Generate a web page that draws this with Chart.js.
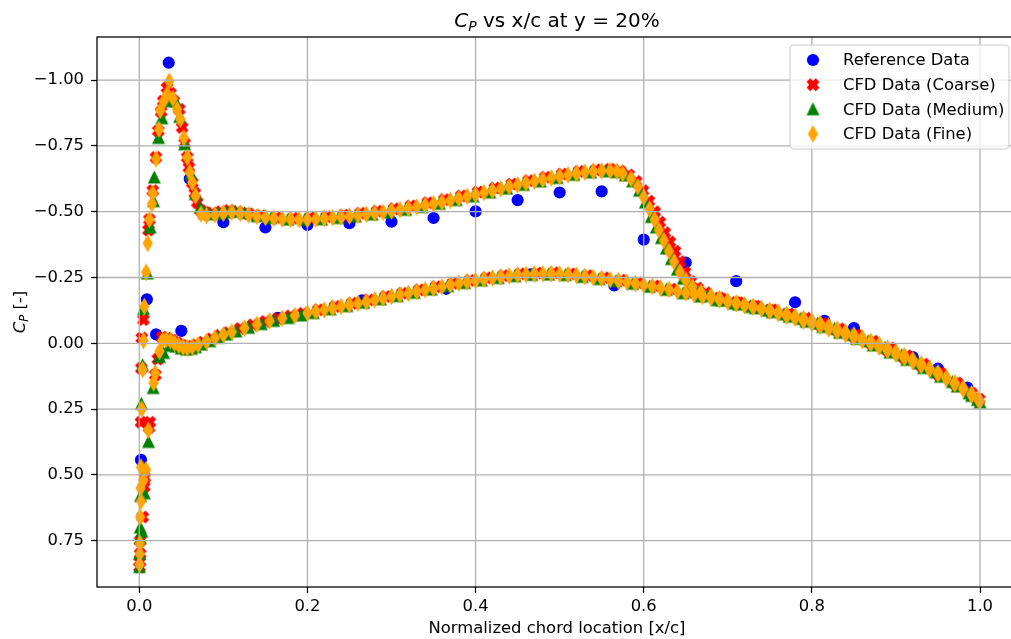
<!DOCTYPE html>
<html>
<head>
<meta charset="utf-8">
<title>Cp vs x/c at y = 20%</title>
<script src="https://cdn.jsdelivr.net/npm/chart.js@4.4.1/dist/chart.umd.min.js"></script>
<style>
  html, body { margin: 0; padding: 0; background: #ffffff; overflow: hidden; }
  canvas { display: block; }
</style>
</head>
<body>
<!-- the axes' right edge sits a few pixels past the visible window -->
<canvas id="cp" width="1017" height="639"></canvas>
<script>
// ---- axis ticks ----
const xTicks = [0.0, 0.2, 0.4, 0.6, 0.8, 1.0];
const xTickLabels = ['0.0', '0.2', '0.4', '0.6', '0.8', '1.0'];
const yTicks = [-1.0, -0.75, -0.5, -0.25, 0.0, 0.25, 0.5, 0.75];
const yTickLabels = ['\u22121.00', '\u22120.75', '\u22120.50', '\u22120.25', '0.00', '0.25', '0.50', '0.75'];

// ---- experimental reference ----
const refX  = [0.002, 0.009, 0.020, 0.035, 0.050, 0.060, 0.100, 0.150, 0.200, 0.250, 0.300, 0.350, 0.400, 0.450, 0.500, 0.550, 0.600, 0.650, 0.710, 0.780, 0.815, 0.850, 0.920, 0.950, 0.985, 0.165, 0.265, 0.365, 0.465, 0.565, 0.665];
const refCp = [0.443, -0.167, -0.034, -1.066, -0.047, -0.625, -0.460, -0.440, -0.450, -0.456, -0.462, -0.476, -0.501, -0.544, -0.573, -0.577, -0.394, -0.307, -0.236, -0.156, -0.085, -0.058, 0.052, 0.096, 0.168, -0.097, -0.163, -0.207, -0.262, -0.220, -0.180];

// ---- CFD, coarse mesh ----
const coarseUpX  = [0.0005, 0.001, 0.002, 0.0025, 0.003, 0.005, 0.011, 0.012, 0.016, 0.0198, 0.0226, 0.026, 0.0285, 0.033, 0.037, 0.041, 0.0476, 0.051, 0.054, 0.057, 0.059, 0.063, 0.066, 0.069, 0.073, 0.078, 0.087, 0.097, 0.107, 0.117, 0.130, 0.145, 0.163, 0.183, 0.203, 0.223, 0.243, 0.263, 0.283, 0.303, 0.323, 0.343, 0.363, 0.383, 0.403, 0.423, 0.443, 0.463, 0.483, 0.503, 0.523, 0.543, 0.560, 0.572, 0.582, 0.591, 0.599, 0.606, 0.613, 0.619, 0.625, 0.631, 0.637, 0.643, 0.649, 0.656, 0.664, 0.674, 0.690, 0.710, 0.730, 0.750, 0.770, 0.790, 0.810, 0.830, 0.850, 0.870, 0.890, 0.910, 0.930, 0.950, 0.970, 0.988, 0.998];
const coarseUpCp = [0.83, 0.75, 0.30, 0.095, -0.02, -0.09, -0.43, -0.47, -0.58, -0.706, -0.807, -0.88, -0.92, -0.971, -0.95, -0.92, -0.889, -0.82, -0.76, -0.706, -0.668, -0.61, -0.57, -0.535, -0.505, -0.497, -0.495, -0.500, -0.505, -0.500, -0.492, -0.485, -0.478, -0.475, -0.477, -0.481, -0.487, -0.494, -0.502, -0.511, -0.522, -0.534, -0.546, -0.560, -0.575, -0.590, -0.605, -0.618, -0.631, -0.643, -0.653, -0.659, -0.661, -0.655, -0.640, -0.615, -0.580, -0.540, -0.500, -0.460, -0.420, -0.385, -0.350, -0.310, -0.270, -0.235, -0.210, -0.192, -0.172, -0.155, -0.140, -0.125, -0.108, -0.090, -0.070, -0.049, -0.026, -0.001, 0.026, 0.055, 0.085, 0.117, 0.153, 0.190, 0.215];
const coarseLoX  = [0.0003, 0.001, 0.004, 0.006, 0.0065, 0.0115, 0.0125, 0.019, 0.022, 0.027, 0.033, 0.039, 0.045, 0.051, 0.057, 0.063, 0.068, 0.076, 0.086, 0.096, 0.106, 0.120, 0.135, 0.150, 0.165, 0.180, 0.195, 0.213, 0.233, 0.253, 0.273, 0.293, 0.313, 0.333, 0.353, 0.373, 0.393, 0.413, 0.433, 0.453, 0.473, 0.493, 0.513, 0.533, 0.553, 0.573, 0.593, 0.613, 0.633, 0.653, 0.673, 0.693, 0.713, 0.733, 0.753, 0.773, 0.793, 0.813, 0.833, 0.853, 0.873, 0.893, 0.913, 0.933, 0.953, 0.973, 0.990, 0.999];
const coarseLoCp = [0.85, 0.80, 0.66, 0.545, 0.51, 0.32, 0.30, 0.12, 0.06, -0.023, -0.020, -0.012, -0.002, 0.008, 0.013, 0.012, 0.006, -0.004, -0.017, -0.030, -0.041, -0.056, -0.070, -0.083, -0.094, -0.104, -0.114, -0.127, -0.140, -0.152, -0.165, -0.178, -0.190, -0.203, -0.215, -0.228, -0.239, -0.249, -0.257, -0.264, -0.267, -0.268, -0.264, -0.257, -0.249, -0.240, -0.230, -0.218, -0.206, -0.193, -0.181, -0.167, -0.154, -0.141, -0.127, -0.112, -0.095, -0.076, -0.055, -0.032, -0.008, 0.018, 0.047, 0.079, 0.113, 0.151, 0.190, 0.213];

// ---- CFD, medium mesh ----
const mediumUpX  = [0.0005, 0.001, 0.0015, 0.0025, 0.004, 0.005, 0.0095, 0.013, 0.017, 0.0178, 0.023, 0.027, 0.033, 0.0369, 0.043, 0.048, 0.054, 0.0615, 0.0666, 0.0725, 0.077, 0.084, 0.094, 0.104, 0.114, 0.125, 0.140, 0.157, 0.177, 0.197, 0.217, 0.237, 0.257, 0.277, 0.297, 0.317, 0.337, 0.357, 0.377, 0.397, 0.417, 0.437, 0.457, 0.477, 0.497, 0.517, 0.537, 0.555, 0.568, 0.578, 0.587, 0.595, 0.602, 0.609, 0.615, 0.621, 0.627, 0.633, 0.640, 0.647, 0.655, 0.664, 0.676, 0.693, 0.713, 0.733, 0.753, 0.773, 0.793, 0.813, 0.833, 0.853, 0.873, 0.893, 0.913, 0.933, 0.953, 0.973, 0.990, 1.000];
const mediumUpCp = [0.80, 0.70, 0.58, 0.23, 0.083, -0.13, -0.265, -0.44, -0.54, -0.63, -0.78, -0.855, -0.92, -0.927, -0.92, -0.86, -0.756, -0.643, -0.567, -0.516, -0.495, -0.490, -0.492, -0.497, -0.500, -0.495, -0.483, -0.476, -0.470, -0.469, -0.471, -0.476, -0.482, -0.489, -0.497, -0.507, -0.518, -0.530, -0.544, -0.558, -0.573, -0.588, -0.602, -0.615, -0.628, -0.640, -0.649, -0.653, -0.650, -0.638, -0.615, -0.580, -0.535, -0.480, -0.440, -0.400, -0.360, -0.320, -0.280, -0.245, -0.215, -0.195, -0.180, -0.162, -0.147, -0.133, -0.118, -0.101, -0.082, -0.062, -0.040, -0.017, 0.008, 0.035, 0.063, 0.094, 0.127, 0.164, 0.200, 0.225];
const mediumLoX  = [0.0003, 0.001, 0.003, 0.006, 0.011, 0.0165, 0.024, 0.029, 0.036, 0.044, 0.050, 0.056, 0.062, 0.067, 0.074, 0.084, 0.094, 0.104, 0.115, 0.130, 0.145, 0.160, 0.177, 0.193, 0.207, 0.227, 0.247, 0.267, 0.287, 0.307, 0.327, 0.347, 0.367, 0.387, 0.407, 0.427, 0.447, 0.467, 0.487, 0.507, 0.527, 0.547, 0.567, 0.587, 0.607, 0.627, 0.647, 0.667, 0.687, 0.707, 0.727, 0.747, 0.767, 0.787, 0.807, 0.827, 0.847, 0.867, 0.887, 0.907, 0.927, 0.947, 0.967, 0.987, 0.997];
const mediumLoCp = [0.85, 0.74, 0.715, 0.57, 0.375, 0.17, 0.052, 0.037, 0.010, 0.012, 0.020, 0.024, 0.021, 0.015, 0.005, -0.008, -0.021, -0.033, -0.045, -0.059, -0.073, -0.085, -0.096, -0.106, -0.115, -0.129, -0.141, -0.154, -0.167, -0.179, -0.192, -0.204, -0.217, -0.229, -0.239, -0.248, -0.255, -0.260, -0.261, -0.259, -0.252, -0.244, -0.236, -0.226, -0.215, -0.203, -0.190, -0.178, -0.164, -0.151, -0.138, -0.124, -0.110, -0.093, -0.075, -0.055, -0.032, -0.008, 0.017, 0.045, 0.076, 0.110, 0.147, 0.190, 0.215];

// ---- CFD, fine mesh ----
const fineUpX  = [0.0005, 0.001, 0.0015, 0.002, 0.003, 0.004, 0.005, 0.006, 0.008, 0.010, 0.012, 0.015, 0.016, 0.020, 0.0234, 0.025, 0.029, 0.033, 0.0357, 0.040, 0.045, 0.0488, 0.053, 0.057, 0.060, 0.063, 0.067, 0.0734,
  0.08, 0.09, 0.10, 0.11, 0.12, 0.13, 0.14, 0.15, 0.16, 0.17, 0.18, 0.19, 0.20, 0.21, 0.22, 0.23, 0.24, 0.25, 0.26, 0.27, 0.28, 0.29, 0.30, 0.31, 0.32, 0.33, 0.34, 0.35, 0.36, 0.37, 0.38, 0.39, 0.40, 0.41, 0.42, 0.43, 0.44, 0.45, 0.46, 0.47, 0.48, 0.49, 0.50, 0.51, 0.52, 0.53, 0.54, 0.55, 0.56,
  0.568, 0.575, 0.585, 0.593, 0.600, 0.607, 0.613, 0.618, 0.624, 0.630, 0.636, 0.643, 0.650, 0.658, 0.668,
  0.68, 0.69, 0.70, 0.71, 0.72, 0.73, 0.74, 0.75, 0.76, 0.77, 0.78, 0.79, 0.80, 0.81, 0.82, 0.83, 0.84, 0.85, 0.86, 0.87, 0.88, 0.89, 0.90, 0.91, 0.92, 0.93, 0.94, 0.95, 0.96, 0.97, 0.98, 0.99, 0.998];
const fineUpCp = [0.80, 0.66, 0.55, 0.47, 0.25, 0.10, -0.01, -0.14, -0.27, -0.38, -0.47, -0.53, -0.57, -0.70, -0.813, -0.885, -0.92, -0.946, -0.996, -0.93, -0.889, -0.851, -0.78, -0.706, -0.65, -0.611, -0.56, -0.491,
  -0.485, -0.488, -0.494, -0.498, -0.494, -0.488, -0.482, -0.478, -0.475, -0.472, -0.471, -0.470, -0.470, -0.472, -0.474, -0.477, -0.480, -0.483, -0.486, -0.490, -0.494, -0.498, -0.503, -0.508, -0.513, -0.518, -0.524, -0.530, -0.536, -0.543, -0.550, -0.558, -0.565, -0.572, -0.580, -0.587, -0.595, -0.602, -0.609, -0.615, -0.622, -0.628, -0.634, -0.640, -0.645, -0.650, -0.653, -0.655, -0.656,
  -0.654, -0.645, -0.625, -0.595, -0.555, -0.510, -0.470, -0.430, -0.390, -0.350, -0.310, -0.270, -0.240, -0.215, -0.195,
  -0.180, -0.170, -0.160, -0.152, -0.145, -0.138, -0.130, -0.122, -0.113, -0.104, -0.095, -0.085, -0.075, -0.065, -0.055, -0.044, -0.033, -0.022, -0.010, 0.002, 0.015, 0.028, 0.042, 0.056, 0.070, 0.085, 0.100, 0.117, 0.135, 0.155, 0.175, 0.197, 0.215];
const fineLoX  = [0.0003, 0.0008, 0.002, 0.005, 0.008, 0.0107, 0.017, 0.019, 0.024, 0.0275, 0.032, 0.037, 0.042, 0.047, 0.052, 0.057, 0.063, 0.070, 0.080, 0.090, 0.100, 0.110, 0.125, 0.140, 0.155, 0.170, 0.185,
  0.20, 0.21, 0.22, 0.23, 0.24, 0.25, 0.26, 0.27, 0.28, 0.29, 0.30, 0.31, 0.32, 0.33, 0.34, 0.35, 0.36, 0.37, 0.38, 0.39, 0.40, 0.41, 0.42, 0.43, 0.44, 0.45, 0.46, 0.47, 0.48, 0.49, 0.50, 0.51, 0.52, 0.53, 0.54, 0.55, 0.56, 0.57, 0.58, 0.59, 0.60,
  0.61, 0.62, 0.63, 0.64, 0.65, 0.66, 0.67, 0.68, 0.69, 0.70, 0.71, 0.72, 0.73, 0.74, 0.75, 0.76, 0.77, 0.78, 0.79, 0.80, 0.81, 0.82, 0.83, 0.84, 0.85, 0.86, 0.87, 0.88, 0.89, 0.90, 0.91, 0.92, 0.93, 0.94, 0.95, 0.96, 0.97, 0.98, 0.99, 1.00];
const fineLoCp = [0.84, 0.76, 0.60, 0.52, 0.48, 0.33, 0.15, 0.114, 0.03, -0.011, -0.015, -0.010, 0.000, 0.008, 0.015, 0.018, 0.014, 0.006, -0.007, -0.020, -0.032, -0.043, -0.058, -0.072, -0.085, -0.095, -0.105,
  -0.115, -0.121, -0.127, -0.133, -0.140, -0.146, -0.152, -0.158, -0.165, -0.171, -0.178, -0.184, -0.190, -0.197, -0.203, -0.209, -0.215, -0.222, -0.228, -0.233, -0.238, -0.243, -0.248, -0.252, -0.256, -0.259, -0.262, -0.263, -0.264, -0.264, -0.263, -0.261, -0.258, -0.254, -0.250, -0.246, -0.242, -0.237, -0.232, -0.227, -0.222,
  -0.216, -0.210, -0.204, -0.197, -0.191, -0.185, -0.178, -0.172, -0.165, -0.158, -0.152, -0.145, -0.139, -0.132, -0.125, -0.118, -0.110, -0.102, -0.094, -0.085, -0.075, -0.065, -0.054, -0.043, -0.032, -0.020, -0.008, 0.005, 0.018, 0.032, 0.047, 0.062, 0.078, 0.095, 0.112, 0.130, 0.150, 0.170, 0.192, 0.220];

// ---- axis ranges ----
const X_MIN = -0.0503, X_MAX = 1.044;
const Y_MIN = -1.1637, Y_MAX = 0.9259;

const FONT = '"DejaVu Sans", "Liberation Sans", sans-serif';
const LABEL_SIZE = 16.4;
const TITLE_SIZE = 20;

function toPoints(xs, ys) {
  const n = Math.min(xs.length, ys.length);
  const out = [];
  for (let i = 0; i < n; i++) out.push({ x: xs[i], y: ys[i] });
  return out;
}

// filled marker glyphs (face plus a thin edge in the same colour) used as point styles
function glyph(w, h, color, verts) {
  const c = document.createElement('canvas');
  c.width = w; c.height = h;
  const g = c.getContext('2d');
  g.fillStyle = color;
  g.strokeStyle = color;
  g.lineWidth = 1.5;
  g.lineJoin = 'miter';
  g.beginPath();
  verts.forEach(([px, py], i) => {
    if (i === 0) g.moveTo(w / 2 + px, h / 2 + py); else g.lineTo(w / 2 + px, h / 2 + py);
  });
  g.closePath();
  g.fill();
  g.stroke();
  return c;
}
const S = 11.5;
const plusShape = [[-1,-3],[1,-3],[1,-1],[3,-1],[3,1],[1,1],[1,3],[-1,3],[-1,1],[-3,1],[-3,-1],[-1,-1]];
const xShape = plusShape.map(([a, b]) => {
  const u = a / 6 * S, v = b / 6 * S;
  return [(u - v) * Math.SQRT1_2, (u + v) * Math.SQRT1_2];
});
const markX = glyph(16, 16, '#ff0000', xShape);
const markTri = glyph(15, 15, '#008000', [[0, -5.3], [-5.3, 5.3], [5.3, 5.3]]);
const markDiamond = glyph(13, 19, '#ffa500', [[0, -7.3], [4.3, 0], [0, 7.3], [-4.3, 0]]);

const series = [
  { label: 'Reference Data', style: 'circle', color: '#0000ff' },
  { label: 'CFD Data (Coarse)', style: markX, color: '#ff0000' },
  { label: 'CFD Data (Medium)', style: markTri, color: '#008000' },
  { label: 'CFD Data (Fine)', style: markDiamond, color: '#ffa500' }
];

// text with an italic C and subscript P in front of a regular tail
function drawCpText(ctx, cx, baseline, size, tail) {
  const sub = size * 0.7;
  ctx.font = 'italic ' + size + 'px ' + FONT;
  const wC = ctx.measureText('C').width;
  ctx.font = 'italic ' + sub + 'px ' + FONT;
  const wP = ctx.measureText('P').width;
  ctx.font = size + 'px ' + FONT;
  const wT = ctx.measureText(tail).width;
  let x = cx - (wC + wP + wT) / 2;
  ctx.textAlign = 'left';
  ctx.textBaseline = 'alphabetic';
  ctx.font = 'italic ' + size + 'px ' + FONT;
  ctx.fillText('C', x, baseline);
  x += wC;
  ctx.font = 'italic ' + sub + 'px ' + FONT;
  ctx.fillText('P', x, baseline + size * 0.2);
  x += wP;
  ctx.font = size + 'px ' + FONT;
  ctx.fillText(tail, x, baseline);
}

const overlay = {
  id: 'overlay',
  afterDatasetsDraw(chart) {
    const { ctx, chartArea: a, scales } = chart;
    ctx.save();
    // grid
    ctx.lineWidth = 1.28;
    ctx.strokeStyle = '#b0b0b0';
    ctx.beginPath();
    xTicks.forEach(v => {
      const p = scales.x.getPixelForValue(v);
      ctx.moveTo(p, a.top); ctx.lineTo(p, a.bottom);
    });
    yTicks.forEach(v => {
      const p = scales.y.getPixelForValue(v);
      ctx.moveTo(a.left, p); ctx.lineTo(a.right, p);
    });
    ctx.stroke();
    // frame
    ctx.strokeStyle = '#000000';
    ctx.strokeRect(a.left, a.top, a.right - a.left, a.bottom - a.top);
    ctx.restore();
  },
  afterDraw(chart) {
    const { ctx, chartArea: a } = chart;
    ctx.save();
    ctx.fillStyle = '#000000';
    // title
    drawCpText(ctx, (a.left + a.right) / 2, 26.5, TITLE_SIZE, ' vs x/c at y = 20%');
    // y axis title
    ctx.save();
    ctx.translate(25, (a.top + a.bottom) / 2);
    ctx.rotate(-Math.PI / 2);
    drawCpText(ctx, 0, 0, LABEL_SIZE, ' [-]');
    ctx.restore();
    // legend, anchored to the upper right corner of the axes
    const bw = 219, bh = 104;
    const bx = a.right - 8 - bw, by = a.top + 8;
    ctx.beginPath();
    ctx.roundRect(bx, by, bw, bh, 4);
    ctx.fillStyle = 'rgba(255,255,255,0.8)';
    ctx.fill();
    ctx.lineWidth = 1.1;
    ctx.strokeStyle = '#cccccc';
    ctx.stroke();
    const mx = bx + 23, tx = bx + 53;
    const rows = [by + 15, by + 39.7, by + 64.3, by + 89];
    series.forEach((s, i) => {
      const ry = rows[i];
      if (s.style === 'circle') {
        ctx.beginPath();
        ctx.arc(mx, ry, 6.1, 0, Math.PI * 2);
        ctx.fillStyle = s.color;
        ctx.fill();
      } else {
        ctx.drawImage(s.style, mx - s.style.width / 2, ry - s.style.height / 2);
      }
      ctx.fillStyle = '#000000';
      ctx.font = LABEL_SIZE + 'px ' + FONT;
      ctx.textAlign = 'left';
      ctx.textBaseline = 'middle';
      ctx.fillText(s.label, tx, ry + 1);
    });
    ctx.restore();
  }
};

const datasets = [
  { label: series[0].label, data: toPoints(refX, refCp), pointStyle: 'circle', pointRadius: 5.4,
    backgroundColor: '#0000ff', borderColor: '#0000ff', borderWidth: 1.4, order: 4 },
  { label: series[1].label, data: toPoints(coarseUpX, coarseUpCp).concat(toPoints(coarseLoX, coarseLoCp)),
    pointStyle: markX, pointRadius: 6, backgroundColor: '#ff0000', borderWidth: 0, order: 3 },
  { label: series[2].label, data: toPoints(mediumUpX, mediumUpCp).concat(toPoints(mediumLoX, mediumLoCp)),
    pointStyle: markTri, pointRadius: 6, backgroundColor: '#008000', borderWidth: 0, order: 2 },
  { label: series[3].label, data: toPoints(fineUpX, fineUpCp).concat(toPoints(fineLoX, fineLoCp)),
    pointStyle: markDiamond, pointRadius: 6, backgroundColor: '#ffa500', borderWidth: 0, order: 1 }
];

new Chart(document.getElementById('cp'), {
  type: 'scatter',
  data: { datasets },
  options: {
    responsive: false,
    animation: false,
    devicePixelRatio: 1,
    events: [],
    layout: { autoPadding: false, padding: { left: 0, right: 0, top: 37, bottom: 0 } },
    plugins: { legend: { display: false }, title: { display: false }, tooltip: { enabled: false } },
    scales: {
      x: {
        type: 'linear',
        min: X_MIN, max: X_MAX,
        afterBuildTicks: s => { s.ticks = xTicks.map(v => ({ value: v })); },
        afterFit: s => { s.height = 52; },
        ticks: {
          callback: (v, i) => xTickLabels[i],
          color: '#000000', font: { family: FONT, size: LABEL_SIZE },
          padding: 4, maxRotation: 0, autoSkip: false
        },
        grid: { drawOnChartArea: false, drawTicks: true, tickLength: 6, tickColor: '#000000', tickWidth: 1.28 },
        border: { display: false },
        title: { display: true, text: 'Normalized chord location [x/c]', color: '#000000',
                 font: { family: FONT, size: LABEL_SIZE }, padding: 0 }
      },
      y: {
        type: 'linear',
        reverse: true,
        min: Y_MIN, max: Y_MAX,
        afterBuildTicks: s => { s.ticks = yTicks.map(v => ({ value: v })); },
        afterFit: s => { s.width = 97; },
        ticks: {
          callback: (v, i) => yTickLabels[i],
          color: '#000000', font: { family: FONT, size: LABEL_SIZE },
          padding: 7, autoSkip: false
        },
        grid: { drawOnChartArea: false, drawTicks: true, tickLength: 6, tickColor: '#000000', tickWidth: 1.28 },
        border: { display: false },
        title: { display: false }
      }
    }
  },
  plugins: [overlay]
});
</script>
</body>
</html>
